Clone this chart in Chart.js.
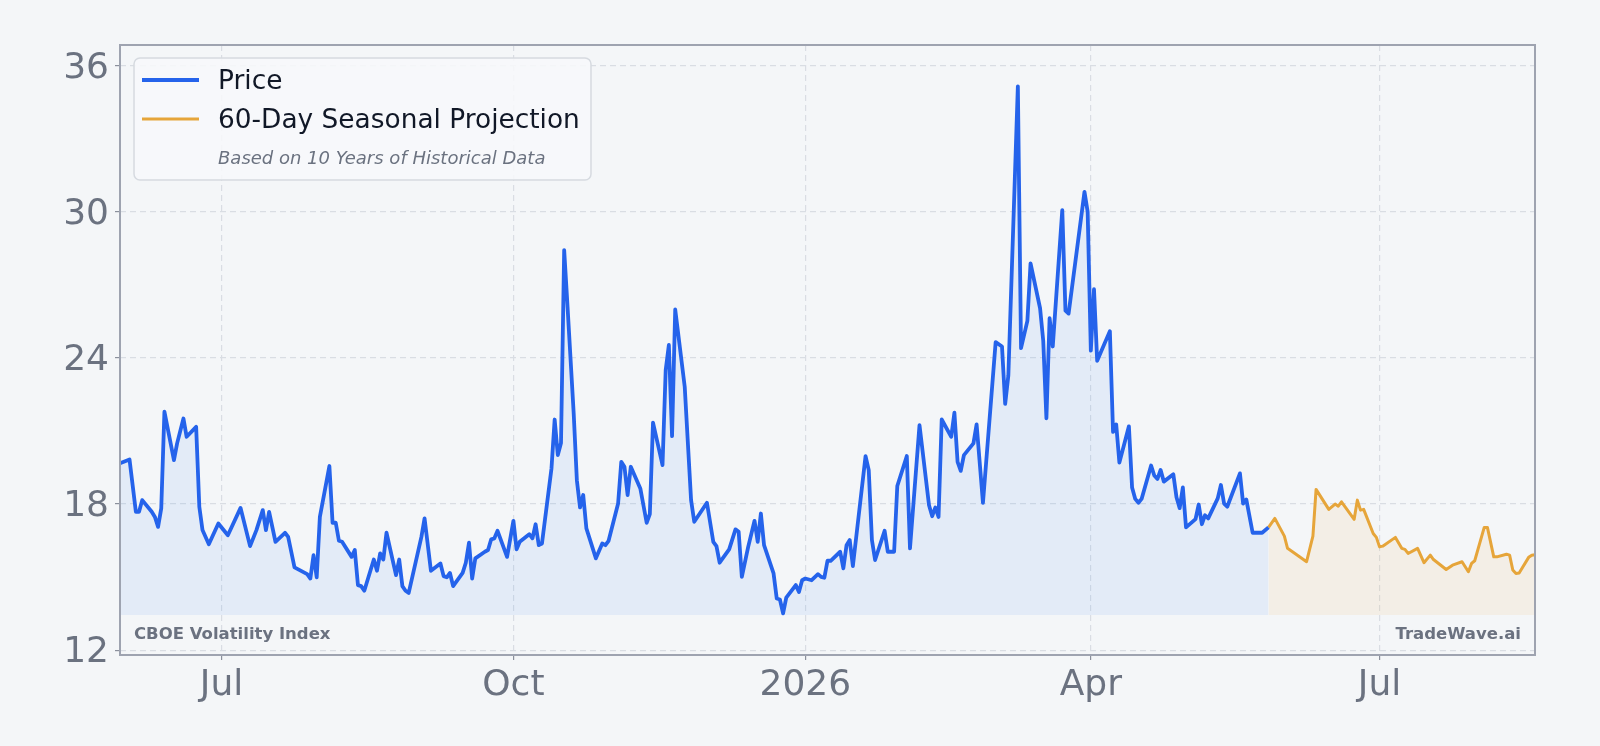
<!DOCTYPE html>
<html>
<head>
<meta charset="utf-8">
<script src="https://cdn.jsdelivr.net/npm/chart.js@4.4.1/dist/chart.umd.min.js"></script>
<style>
  html, body { margin: 0; padding: 0; background: #f4f6f8; }
  #wrap { width: 1600px; height: 746px; }
</style>
</head>
<body>
<div id="wrap"><canvas id="vixChart" width="1600" height="746"></canvas></div>
<script>
// --- price history ---
const priceDates = [
  "2025-05-30","2025-06-02","2025-06-04","2025-06-05","2025-06-06","2025-06-09","2025-06-10","2025-06-11",
  "2025-06-12","2025-06-13","2025-06-16","2025-06-17","2025-06-19","2025-06-20","2025-06-23","2025-06-24",
  "2025-06-25","2025-06-27","2025-06-30","2025-07-03","2025-07-07","2025-07-10","2025-07-12","2025-07-14",
  "2025-07-15","2025-07-16","2025-07-18","2025-07-21","2025-07-22","2025-07-24","2025-07-28","2025-07-29",
  "2025-07-30","2025-07-31","2025-08-01","2025-08-04","2025-08-05","2025-08-06","2025-08-07","2025-08-08",
  "2025-08-11","2025-08-12","2025-08-13","2025-08-14","2025-08-15","2025-08-18","2025-08-19","2025-08-20",
  "2025-08-21","2025-08-22","2025-08-25","2025-08-26","2025-08-27","2025-08-28","2025-08-29","2025-09-02",
  "2025-09-03","2025-09-05","2025-09-08","2025-09-09","2025-09-10","2025-09-11","2025-09-12","2025-09-15",
  "2025-09-16","2025-09-17","2025-09-18","2025-09-19","2025-09-22","2025-09-23","2025-09-24","2025-09-25",
  "2025-09-26","2025-09-29","2025-10-01","2025-10-02","2025-10-03","2025-10-06","2025-10-07","2025-10-08",
  "2025-10-09","2025-10-10","2025-10-13","2025-10-14","2025-10-15","2025-10-16","2025-10-17","2025-10-18",
  "2025-10-20","2025-10-21","2025-10-22","2025-10-23","2025-10-24","2025-10-27","2025-10-29","2025-10-30",
  "2025-10-31","2025-11-03","2025-11-04","2025-11-05","2025-11-06","2025-11-07","2025-11-10","2025-11-12",
  "2025-11-13","2025-11-14","2025-11-17","2025-11-18","2025-11-19","2025-11-20","2025-11-21","2025-11-24",
  "2025-11-26","2025-11-27","2025-12-01","2025-12-03","2025-12-04","2025-12-05","2025-12-08","2025-12-10",
  "2025-12-11","2025-12-12","2025-12-14","2025-12-16","2025-12-17","2025-12-18","2025-12-19","2025-12-22",
  "2025-12-23","2025-12-24","2025-12-25","2025-12-26","2025-12-29","2025-12-30","2025-12-31","2026-01-01",
  "2026-01-03","2026-01-05","2026-01-06","2026-01-07","2026-01-08","2026-01-09","2026-01-12","2026-01-13",
  "2026-01-14","2026-01-15","2026-01-16","2026-01-20","2026-01-21","2026-01-22","2026-01-23","2026-01-26",
  "2026-01-27","2026-01-29","2026-01-30","2026-02-02","2026-02-03","2026-02-06","2026-02-09","2026-02-10",
  "2026-02-11","2026-02-12","2026-02-13","2026-02-16","2026-02-17","2026-02-18","2026-02-19","2026-02-20",
  "2026-02-23","2026-02-24","2026-02-26","2026-03-02","2026-03-04","2026-03-05","2026-03-06","2026-03-09",
  "2026-03-10","2026-03-12","2026-03-13","2026-03-16","2026-03-17","2026-03-18","2026-03-19","2026-03-20",
  "2026-03-23","2026-03-24","2026-03-25","2026-03-30","2026-03-31","2026-04-01","2026-04-02","2026-04-03",
  "2026-04-07","2026-04-08","2026-04-09","2026-04-10","2026-04-13","2026-04-14","2026-04-15","2026-04-16",
  "2026-04-17","2026-04-20","2026-04-21","2026-04-22","2026-04-23","2026-04-24","2026-04-27","2026-04-28",
  "2026-04-29","2026-04-30","2026-05-01","2026-05-04","2026-05-05","2026-05-06","2026-05-07","2026-05-08",
  "2026-05-11","2026-05-12","2026-05-13","2026-05-14","2026-05-18","2026-05-19","2026-05-20","2026-05-22",
  "2026-05-25","2026-05-27"
];
const priceValues = [
  19.67,19.83,17.68,17.68,18.16,17.68,17.47,17.06,
  17.82,21.79,19.80,20.49,21.51,20.76,21.17,17.89,
  16.93,16.35,17.20,16.72,17.84,16.27,16.93,17.75,
  16.93,17.68,16.45,16.82,16.65,15.40,15.12,14.94,
  15.90,14.99,17.47,19.56,17.23,17.23,16.49,16.45,
  15.83,16.11,14.67,14.63,14.44,15.72,15.26,15.97,
  15.72,16.82,15.08,15.72,14.63,14.44,14.35,16.65,
  17.41,15.26,15.56,15.04,14.99,15.17,14.63,15.17,
  15.59,16.41,14.94,15.77,16.04,16.11,16.55,16.59,
  16.90,15.83,17.31,16.14,16.45,16.76,16.59,17.17,
  16.31,16.38,19.46,21.47,20.01,20.51,28.43,26.24,
  21.72,18.98,17.86,18.37,17.00,15.77,16.38,16.31,
  16.49,18.02,19.73,19.53,18.37,19.53,18.64,17.23,
  17.59,21.34,19.60,23.50,24.53,20.79,25.99,22.81,
  18.16,17.27,18.05,16.45,16.27,15.59,16.14,16.96,
  16.86,15.01,16.24,17.31,16.45,17.61,16.31,15.15,
  14.12,14.08,13.51,14.16,14.67,14.39,14.87,14.94,
  14.87,15.12,15.01,14.97,15.67,15.67,16.04,15.36,
  16.31,16.52,15.45,19.97,19.39,16.52,15.70,16.90,
  16.04,16.04,18.74,19.97,16.18,21.24,17.95,17.50,
  17.86,17.47,21.47,20.76,21.75,19.73,19.36,20.01,
  20.49,21.27,18.05,24.65,24.47,22.11,23.28,35.15,
  24.40,25.52,27.88,26.04,24.70,21.52,25.63,24.47,
  30.07,25.94,25.82,30.82,30.00,24.30,26.82,23.88,
  25.10,20.96,21.27,19.70,21.19,18.68,18.21,18.05,
  18.21,19.58,19.17,19.03,19.40,18.92,19.22,18.28,
  17.83,18.68,17.04,17.38,17.98,17.17,17.54,17.41,
  18.23,18.78,18.02,17.89,19.26,18.02,18.19,16.82,
  16.82,17.04
];

// --- 60-day seasonal projection ---
const projDates = [
  "2026-05-27","2026-05-29","2026-06-01","2026-06-02","2026-06-04","2026-06-08","2026-06-10","2026-06-11",
  "2026-06-15","2026-06-17","2026-06-18","2026-06-19","2026-06-23","2026-06-24","2026-06-25","2026-06-26",
  "2026-06-29","2026-06-30","2026-07-01","2026-07-02","2026-07-06","2026-07-08","2026-07-09","2026-07-10",
  "2026-07-13","2026-07-15","2026-07-17","2026-07-18","2026-07-22","2026-07-24","2026-07-27","2026-07-29",
  "2026-07-30","2026-07-31","2026-08-03","2026-08-04","2026-08-06","2026-08-07","2026-08-10","2026-08-11",
  "2026-08-12","2026-08-13","2026-08-14","2026-08-17","2026-08-18","2026-08-19"
];
const projValues = [
  17.04,17.41,16.68,16.18,16.00,15.63,16.68,18.60,
  17.78,18.00,17.91,18.09,17.37,18.16,17.75,17.78,
  16.79,16.63,16.24,16.27,16.63,16.18,16.14,15.97,
  16.18,15.59,15.90,15.72,15.31,15.49,15.63,15.22,
  15.56,15.67,17.04,17.04,15.83,15.83,15.94,15.90,
  15.29,15.15,15.17,15.81,15.90,15.92
];

const xTickDates = ["2025-07-01", "2025-10-01", "2026-01-01", "2026-04-01", "2026-07-01"];
const xTickLabels = ["Jul", "Oct", "2026", "Apr", "Jul"];
const yTicks = [12, 18, 24, 30, 36];
const fillBase = 13.44;

const legendTitles = ["Price", "60-Day Seasonal Projection"];
const legendNote = "Based on 10 Years of Historical Data";
const leftTag = "CBOE Volatility Index";
const rightTag = "TradeWave.ai";

const BLUE = "#2563eb";
const ORANGE = "#e6a53a";
const GRAY = "#6b7280";
const FONT = "'DejaVu Sans', 'Noto Sans', sans-serif";

// days since 2025-01-01
const t0 = Date.parse("2025-01-01T00:00:00Z");
function toDay(s) {
  return (Date.parse(s + "T00:00:00Z") - t0) / 86400000;
}

const priceData = priceDates.map((d, i) => ({ x: toDay(d), y: priceValues[i] }));
const projData = projDates.map((d, i) => ({ x: toDay(d), y: projValues[i] }));

// frame, watermark and legend box
const decor = {
  id: "decor",
  afterDraw(chart) {
    const { ctx, chartArea: a } = chart;
    ctx.save();

    // plot frame
    ctx.strokeStyle = "#9ea3b0";
    ctx.lineWidth = 2;
    ctx.strokeRect(a.left, a.top, a.right - a.left, a.bottom - a.top);

    // tags at the bottom of the plot
    ctx.font = "bold 16.5px " + FONT;
    ctx.fillStyle = GRAY;
    ctx.textBaseline = "middle";
    ctx.textAlign = "left";
    ctx.fillText(leftTag, a.left + 14, a.bottom - 20);
    ctx.textAlign = "right";
    ctx.fillText(rightTag, a.right - 14, a.bottom - 20);

    // legend
    const bx = a.left + 14, by = a.top + 13, bw = 457, bh = 122;
    ctx.beginPath();
    ctx.roundRect(bx, by, bw, bh, 6);
    ctx.fillStyle = "rgba(247,248,250,0.88)";
    ctx.fill();
    ctx.strokeStyle = "#d6dae0";
    ctx.lineWidth = 1.5;
    ctx.stroke();

    const rows = [
      { color: BLUE, width: 3.8, y: by + 22 },
      { color: ORANGE, width: 3, y: by + 61 }
    ];
    ctx.lineCap = "butt";
    rows.forEach((r, i) => {
      ctx.beginPath();
      ctx.strokeStyle = r.color;
      ctx.lineWidth = r.width;
      ctx.moveTo(bx + 8, r.y);
      ctx.lineTo(bx + 65, r.y);
      ctx.stroke();
      ctx.font = "26.4px " + FONT;
      ctx.fillStyle = "#111827";
      ctx.textAlign = "left";
      ctx.textBaseline = "middle";
      ctx.fillText(legendTitles[i], bx + 84, r.y + 2);
    });
    ctx.font = "italic 18px " + FONT;
    ctx.fillStyle = GRAY;
    ctx.fillText(legendNote, bx + 84, by + 101);

    ctx.restore();
  }
};

new Chart(document.getElementById("vixChart"), {
  type: "line",
  data: {
    datasets: [
      {
        label: legendTitles[0],
        data: priceData,
        borderColor: BLUE,
        borderWidth: 3.8,
        backgroundColor: "rgba(59,130,246,0.09)",
        fill: { value: fillBase },
        pointRadius: 0,
        tension: 0,
        borderJoinStyle: "round"
      },
      {
        label: legendTitles[1],
        data: projData,
        borderColor: ORANGE,
        borderWidth: 3,
        backgroundColor: "rgba(230,165,58,0.09)",
        fill: { value: fillBase },
        pointRadius: 0,
        tension: 0,
        borderJoinStyle: "round"
      }
    ]
  },
  options: {
    responsive: false,
    animation: false,
    devicePixelRatio: 1,
    layout: { padding: { top: 45, right: 65, left: 0, bottom: 0 } },
    plugins: {
      legend: { display: false },
      tooltip: { enabled: false }
    },
    scales: {
      x: {
        type: "linear",
        min: toDay(priceDates[0]),
        max: toDay(projDates[projDates.length - 1]),
        afterBuildTicks: s => { s.ticks = xTickDates.map(d => ({ value: toDay(d) })); },
        afterFit: s => { s.height = 91; },
        ticks: {
          autoSkip: false,
          maxRotation: 0,
          padding: 4,
          color: GRAY,
          font: { family: FONT, size: 36 },
          callback: (v, i) => xTickLabels[i]
        },
        grid: { color: "#d9dde3", lineWidth: 1.2, tickLength: 5, tickColor: "#8b909c", tickWidth: 1.2 },
        border: { display: false, dash: [6, 4] }
      },
      y: {
        min: 11.8,
        max: 36.85,
        afterBuildTicks: s => { s.ticks = yTicks.map(v => ({ value: v })); },
        afterFit: s => { s.width = 120; },
        ticks: {
          autoSkip: false,
          padding: 6,
          labelOffset: 3,
          color: GRAY,
          font: { family: FONT, size: 36 },
          callback: v => String(v)
        },
        grid: { color: "#d9dde3", lineWidth: 1.2, tickLength: 5, tickColor: "#8b909c", tickWidth: 1.2 },
        border: { display: false, dash: [6, 4] }
      }
    }
  },
  plugins: [decor]
});
</script>
</body>
</html>
